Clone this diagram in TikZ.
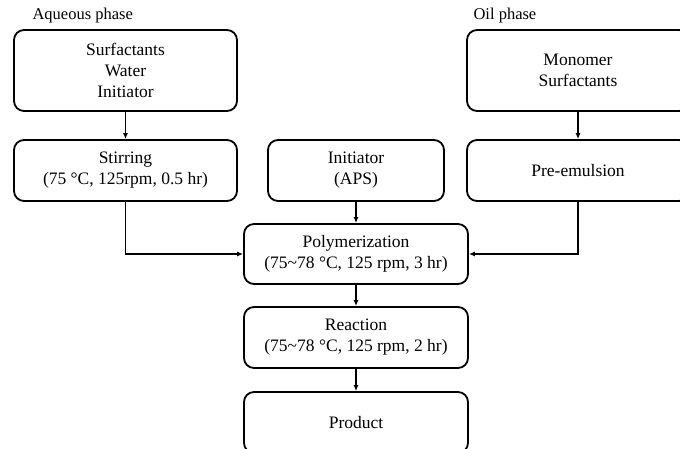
\documentclass[tikz,border=0pt]{standalone}
\usepackage{fontspec}
\setmainfont{Liberation Serif}
\usetikzlibrary{arrows.meta}
\tikzset{
    RB1/.style ={rectangle,rounded corners=10pt,minimum width=223pt,minimum height=81pt,draw,line width=1.8pt,align=center,font=\fontsize{17.5}{21}\selectfont},
    RB2/.style ={RB1,minimum height=61pt},
    LB/.style ={anchor=west,font=\fontsize{16.5}{20}\selectfont},
    AR/.style ={-{Latex[length=6pt,width=5pt]},line width=1.6pt}
}
\begin{document}
\begin{tikzpicture}[x=1pt,y=-1pt]
        \useasboundingbox (0,0) rectangle (680,449);
        \node[LB] (aqlab) at (29,16){Aqueous phase};
        \node[LB] (oillab) at (470,16){Oil phase};
        \node[RB1] (aq) at (125.5,70.5){Surfactants\\Water\\Initiator};
        \node[RB1,minimum width=222pt] (oil) at (578,70.5){Monomer\\Surfactants};
        \node[RB2] (stir) at (125.5,170.5){Stirring\\(75 °C, 125rpm, 0.5 hr)};
        \node[RB2,minimum width=176pt] (init) at (356,170.5){Initiator\\(APS)};
        \node[RB2,minimum width=222pt] (pre) at (578,170.5){Pre-emulsion};
        \node[RB2,minimum width=224pt,minimum height=60pt] (poly) at (356,254){Polymerization\\(75\textasciitilde78 °C, 125 rpm, 3 hr)};
        \node[RB2,minimum width=224pt] (reac) at (356,337.5){Reaction\\(75\textasciitilde78 °C, 125 rpm, 2 hr)};
        \node[RB2,minimum width=224pt] (prod) at (356,422.5){Product};
        \draw[AR] (aq)--(stir);
        \draw[AR] (oil)--(pre);
        \draw[AR] (init)--(poly);
        \draw[AR] (stir.south)|-(poly.west);
        \draw[AR] (pre.south)|-(poly.east);
        \draw[AR] (poly)--(reac);
        \draw[AR] (reac)--(prod);
    \end{tikzpicture}
\end{document}
